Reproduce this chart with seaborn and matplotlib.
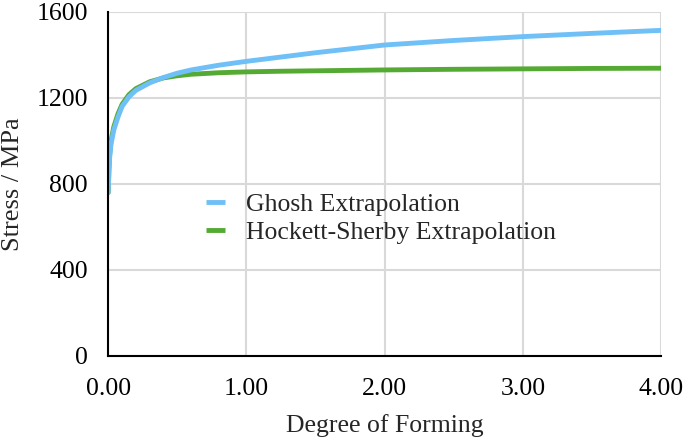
import pandas as pd
import matplotlib
matplotlib.use("Agg")
import matplotlib.pyplot as plt
import seaborn as sns

# degree of forming (x) and flow stress curves
forming = [0, 0.005, 0.01, 0.02, 0.04, 0.07, 0.1, 0.15, 0.2, 0.3, 0.4, 0.5,
           0.6, 0.8, 1.0, 1.25, 1.5, 2.0, 2.5, 3.0, 3.5, 4.0]
ghosh = [760, 860, 920, 985, 1050, 1110, 1160, 1205, 1235, 1270, 1295, 1315,
         1330, 1352, 1370, 1390, 1410, 1446, 1467, 1485, 1500, 1514]
hockett = [760, 870, 935, 1000, 1065, 1125, 1170, 1215, 1243, 1275, 1293, 1303,
           1310, 1317, 1321, 1324, 1326, 1330, 1333, 1335, 1337, 1338]

labels = ["Ghosh Extrapolation", "Hockett-Sherby Extrapolation"]
colors = ["#6EC0F7", "#55AA33"]

df = pd.concat([
    pd.DataFrame({"x": forming, "y": ghosh, "curve": labels[0]}),
    pd.DataFrame({"x": forming, "y": hockett, "curve": labels[1]}),
])

sns.set_style("white")
plt.rcParams["font.family"] = ["Liberation Serif", "DejaVu Serif"]

fig = plt.figure(figsize=(6.85, 4.4), dpi=100)
ax = fig.add_axes([0.158, 0.191, 0.807, 0.782])

# draw Hockett-Sherby first so Ghosh sits on top near the origin
sns.lineplot(data=df, x="x", y="y", hue="curve", hue_order=labels[::-1],
             palette=colors[::-1], linewidth=3.5, ax=ax, legend=False, sort=False)

ax.set_xlim(0, 4)
ax.set_ylim(0, 1600)
ax.set_xticks([0, 1, 2, 3, 4])
ax.set_xticklabels(["0.00", "1.00", "2.00", "3.00", "4.00"])
ax.set_yticks([0, 400, 800, 1200, 1600])
ax.grid(True, color="#d9d9d9", linewidth=1.5)
ax.set_axisbelow(True)

for s in ["top", "right"]:
    ax.spines[s].set_visible(False)
for s in ["left", "bottom"]:
    ax.spines[s].set_color("black")
    ax.spines[s].set_linewidth(1.5)
ax.tick_params(direction="inout", length=8, width=1.5, colors="black",
               labelsize=18.5)
ax.tick_params(axis="y", pad=10.5)
ax.tick_params(axis="x", pad=12)

ax.set_xlabel("Degree of Forming", fontsize=18.5, labelpad=10)
ax.set_ylabel("Stress / MPa", fontsize=19, labelpad=9)

handles = [plt.Line2D([], [], color=c, linewidth=3.5, solid_capstyle="butt")
           for c in colors]
ax.legend(handles, labels, loc="center left", bbox_to_anchor=(0.135, 0.40),
          frameon=False, fontsize=18.5, handlelength=0.75, handletextpad=0.8,
          labelspacing=0.2)

fig.savefig("out.png", dpi=100)
